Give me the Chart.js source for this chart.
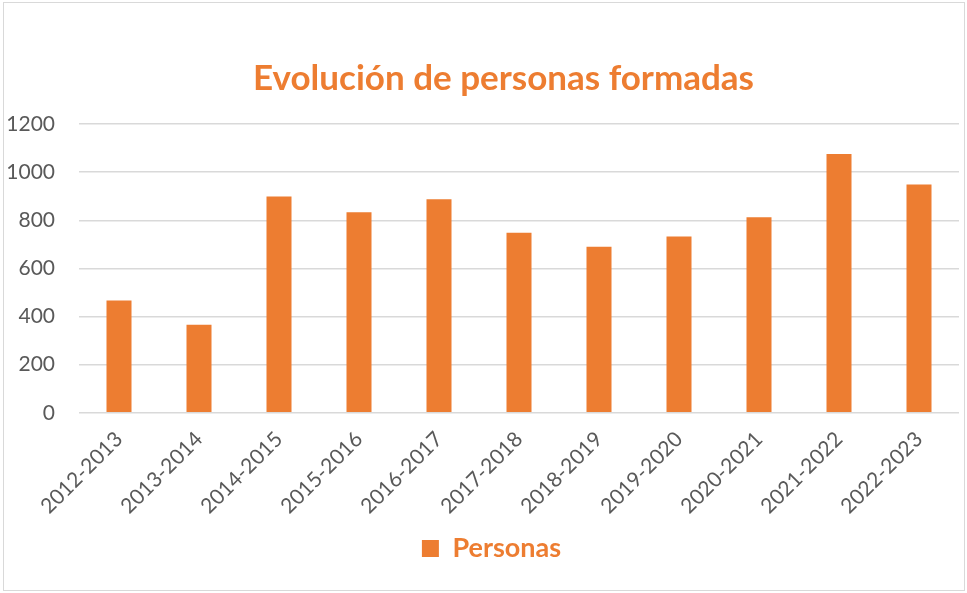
<!DOCTYPE html>
<html>
<head>
<meta charset="utf-8">
<script src="https://cdn.jsdelivr.net/npm/chart.js@4"></script>
<style>
  html, body { margin: 0; padding: 0; background: #fff; }
  #wrap { position: relative; width: 967px; height: 593px; }
  #frame { position: absolute; left: 3px; top: 2px; width: 960px; height: 587px;
           border: 1px solid #d9d9d9; pointer-events: none; }
</style>
</head>
<body>
<div id="wrap">
  <canvas id="myChart" width="967" height="593"></canvas>
  <div id="frame"></div>
</div>
<script>
//categories and values
const cursos = ['2012-2013', '2013-2014', '2014-2015', '2015-2016', '2016-2017', '2017-2018',
	'2018-2019', '2019-2020', '2020-2021', '2021-2022', '2022-2023'];
const personas = [467, 366, 899, 833, 887, 748, 690, 732, 812, 1075, 949];
const yTicks = [0, 200, 400, 600, 800, 1000, 1200];

const ORANGE = '#ED7D31';
const GREY_TEXT = '#595959';
const GRID = '#D9D9D9';

var ctx = document.getElementById('myChart');
Chart.defaults.font.family = 'Lato, "Open Sans", sans-serif';

//title and legend sit a bit right of the canvas centre in the original
var nudgeBoxes = {
	id: 'nudgeBoxes',
	afterLayout: function(chart) {
		chart.titleBlock.left += 24;
		chart.titleBlock.right += 24;
		chart.legend.left += 12;
		chart.legend.right += 12;
	}
};

var chart = new Chart(ctx, {
	type: 'bar',
	data: {
		labels: cursos,
		datasets: [{
			label: 'Personas',
			data: personas,
			backgroundColor: ORANGE,
			borderWidth: 0,
			barPercentage: 1,
			categoryPercentage: 0.3125
		}]
	},
	options: {
		responsive: false,
		animation: false,
		layout: { padding: { left: 0, right: 8, top: 0, bottom: 21 } },
		plugins: {
			title: {
				display: true,
				text: 'Evolución de personas formadas',
				color: ORANGE,
				font: { size: 35, weight: 'bold' },
				padding: { top: 58, bottom: 24 }
			},
			legend: {
				position: 'bottom',
				labels: {
					color: ORANGE,
					font: { size: 27, weight: 'bold' },
					boxWidth: 17,
					boxHeight: 17,
					padding: 10
				}
			},
			tooltip: { enabled: false }
		},
		scales: {
			x: {
				grid: { display: false },
				border: { display: false },
				ticks: {
					color: GREY_TEXT,
					font: { size: 21 },
					minRotation: 45,
					maxRotation: 45,
					padding: 6
				}
			},
			y: {
				min: yTicks[0],
				max: yTicks[yTicks.length - 1],
				afterBuildTicks: function(scale) {
					scale.ticks = yTicks.map(function(v) { return { value: v }; });
				},
				afterFit: function(scale) { scale.width = 79; },
				grid: { color: GRID, lineWidth: 1.5, drawTicks: false },
				border: { display: false },
				ticks: {
					color: GREY_TEXT,
					font: { size: 21 },
					padding: 24,
					callback: function(v) { return String(v); }
				}
			}
		}
	},
	plugins: [nudgeBoxes]
});
</script>
</body>
</html>
